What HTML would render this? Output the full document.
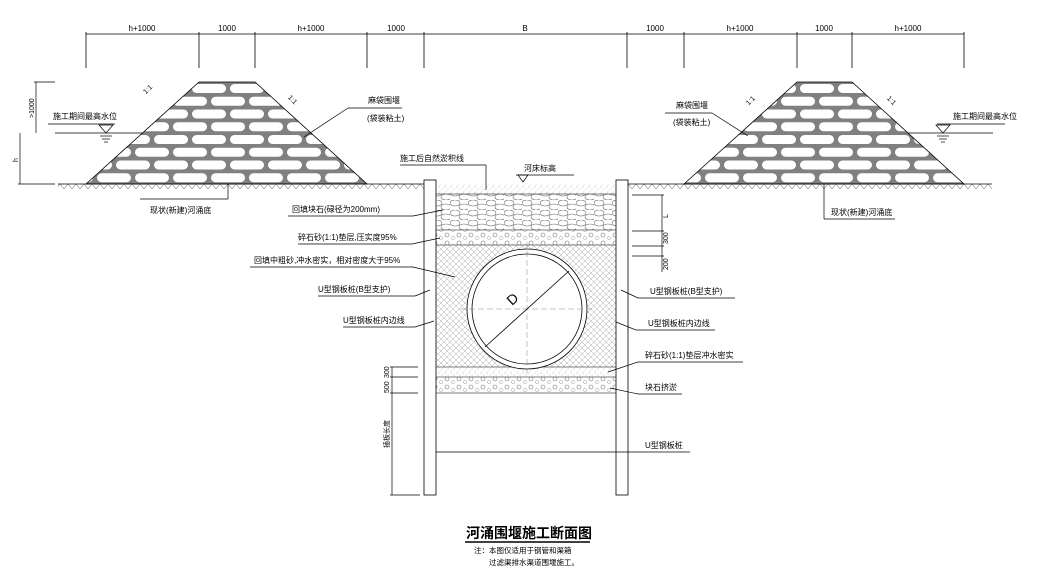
<!DOCTYPE html>
<html><head><meta charset="utf-8"><style>
html,body{margin:0;padding:0;background:#fff;width:1038px;height:583px;overflow:hidden}
svg{display:block}
text{font-family:"Liberation Sans","Noto Sans CJK SC",sans-serif;fill:#000}
</style></head><body>
<svg width="1038" height="583" viewBox="0 0 1038 583" xmlns="http://www.w3.org/2000/svg">
<defs>
<pattern id="brick" x="0" y="82" width="38" height="25.5" patternUnits="userSpaceOnUse">
<rect width="38" height="25.5" fill="#808080"/>
<rect x="2" y="2" width="34" height="9" rx="4.5" fill="#fff"/>
<rect x="-17" y="14.75" width="34" height="9" rx="4.5" fill="#fff"/>
<rect x="21" y="14.75" width="34" height="9" rx="4.5" fill="#fff"/>
</pattern>
<pattern id="stip" width="6" height="6" patternUnits="userSpaceOnUse">
<rect width="6" height="6" fill="#fff"/>
<circle cx="1" cy="1" r="0.5" fill="#999"/><circle cx="4" cy="3" r="0.5" fill="#aaa"/><circle cx="2" cy="5" r="0.4" fill="#999"/>
</pattern>
<pattern id="circ" width="12" height="8" patternUnits="userSpaceOnUse">
<rect width="12" height="8" fill="#fff"/>
<circle cx="3" cy="3" r="2" fill="none" stroke="#777" stroke-width="0.6"/>
<circle cx="9" cy="6" r="1.6" fill="none" stroke="#999" stroke-width="0.5"/>
</pattern>
<pattern id="stone" width="18" height="10" patternUnits="userSpaceOnUse">
<rect width="18" height="10" fill="#fff"/>
<ellipse cx="5" cy="3" rx="5" ry="3" fill="none" stroke="#666" stroke-width="0.6"/>
<ellipse cx="14" cy="7" rx="5" ry="3" fill="none" stroke="#666" stroke-width="0.6"/>
</pattern>
<pattern id="cross" width="6" height="6" patternUnits="userSpaceOnUse">
<rect width="6" height="6" fill="#fff"/>
<path d="M0 6L6 0M0 0L6 6" stroke="#aaa" stroke-width="0.5"/>
</pattern>
<pattern id="hatch" width="8" height="5" patternUnits="userSpaceOnUse" x="0" y="184">
<path d="M0 5L4 0L8 5" fill="none" stroke="#888" stroke-width="0.6"/>
</pattern>
</defs>

<g stroke="#000" stroke-width="0.8">
<line x1="86" y1="34" x2="964" y2="34"/>
<line x1="86" y1="32" x2="86" y2="68"/><line x1="199" y1="32" x2="199" y2="68"/><line x1="255" y1="32" x2="255" y2="68"/>
<line x1="367" y1="32" x2="367" y2="68"/><line x1="424" y1="32" x2="424" y2="68"/><line x1="627" y1="32" x2="627" y2="68"/>
<line x1="684" y1="32" x2="684" y2="68"/><line x1="797" y1="32" x2="797" y2="68"/><line x1="852" y1="32" x2="852" y2="68"/><line x1="964" y1="32" x2="964" y2="68"/>
</g>
<g font-size="8" text-anchor="middle">
<text x="142" y="31">h+1000</text><text x="227" y="31">1000</text><text x="311" y="31">h+1000</text><text x="396" y="31">1000</text>
<text x="525" y="31">B</text><text x="655" y="31">1000</text><text x="740" y="31">h+1000</text><text x="824" y="31">1000</text><text x="908" y="31">h+1000</text>
</g>

<polygon points="86,184 199,82 255,82 367,184" fill="url(#brick)" stroke="#000" stroke-width="0.8"/>
<polygon points="684,184 797,82 852,82 964,184" fill="url(#brick)" stroke="#000" stroke-width="0.8"/>

<rect x="58" y="184" width="366" height="5" fill="url(#hatch)"/>
<rect x="628" y="184" width="364" height="5" fill="url(#hatch)"/>
<line x1="58" y1="184" x2="424" y2="184" stroke="#000" stroke-width="0.8"/>
<line x1="628" y1="184" x2="992" y2="184" stroke="#000" stroke-width="0.8"/>

<rect x="436" y="184" width="180" height="10" fill="url(#stip)"/>
<rect x="436" y="194" width="180" height="36" fill="url(#stone)"/>
<rect x="436" y="230" width="180" height="15" fill="url(#circ)"/>
<rect x="436" y="245" width="180" height="122" fill="url(#cross)"/>
<rect x="436" y="367" width="180" height="10" fill="url(#stip)"/>
<rect x="436" y="377" width="180" height="16" fill="url(#circ)"/>
<g stroke="#555" stroke-width="0.7">
<line x1="436" y1="194" x2="616" y2="194"/><line x1="436" y1="230" x2="616" y2="230"/><line x1="436" y1="245" x2="616" y2="245"/>
<line x1="436" y1="367" x2="616" y2="367"/><line x1="436" y1="377" x2="616" y2="377"/><line x1="436" y1="393" x2="616" y2="393"/>
</g>
<circle cx="527" cy="309" r="60" fill="#fff" stroke="#000" stroke-width="0.8"/>
<circle cx="527" cy="309" r="55" fill="#fff" stroke="#000" stroke-width="0.8"/>
<g stroke="#888" stroke-width="0.5" stroke-dasharray="6,3">
<line x1="460" y1="309" x2="594" y2="309"/><line x1="527" y1="242" x2="527" y2="376"/>
</g>
<line x1="485" y1="347" x2="569" y2="271" stroke="#000" stroke-width="0.8"/>
<text x="0" y="0" font-size="14" transform="translate(512,306) rotate(-42)">D</text>

<rect x="424" y="180" width="12" height="315" fill="#fff" stroke="#000" stroke-width="0.8"/>
<rect x="616" y="180" width="12" height="315" fill="#fff" stroke="#000" stroke-width="0.8"/>

<g stroke="#000" stroke-width="0.7" fill="none">
<line x1="55" y1="133" x2="142" y2="133"/>
<polygon points="99,125 113,125 106,133"/>
<line x1="100" y1="136" x2="112" y2="136"/><line x1="102" y1="139" x2="110" y2="139"/><line x1="104" y1="142" x2="108" y2="142"/>
<line x1="908" y1="133" x2="993" y2="133"/>
<polygon points="936,125 950,125 943,133"/>
<line x1="937" y1="136" x2="949" y2="136"/><line x1="939" y1="139" x2="947" y2="139"/><line x1="941" y1="142" x2="945" y2="142"/>
<line x1="937" y1="124" x2="1005" y2="124"/>
<line x1="48" y1="124" x2="115" y2="124"/>
<line x1="36" y1="82" x2="36" y2="133"/><line x1="34" y1="82" x2="55" y2="82"/>
<line x1="20" y1="133" x2="20" y2="184"/><line x1="18" y1="184" x2="55" y2="184"/>
<line x1="304" y1="137" x2="348" y2="108"/><line x1="348" y1="108" x2="402" y2="108"/>
<line x1="748" y1="136" x2="712" y2="113"/><line x1="712" y1="113" x2="665" y2="113"/>
<line x1="228" y1="184" x2="228" y2="199"/><line x1="228" y1="199" x2="140" y2="199"/>
<line x1="824" y1="184" x2="824" y2="219"/><line x1="824" y1="219" x2="895" y2="219"/>
<line x1="486" y1="190" x2="486" y2="165"/><line x1="486" y1="165" x2="400" y2="165"/>
<line x1="516" y1="175" x2="574" y2="175"/>
<polygon points="518,175 528,175 523,182"/>
<line x1="443" y1="210" x2="413" y2="216"/><line x1="413" y1="216" x2="288" y2="216"/>
<line x1="440" y1="238" x2="412" y2="244"/><line x1="412" y1="244" x2="298" y2="244"/>
<line x1="455" y1="277" x2="413" y2="267"/><line x1="413" y1="267" x2="250" y2="267"/>
<line x1="430" y1="290" x2="415" y2="296"/><line x1="415" y1="296" x2="318" y2="296"/>
<line x1="434" y1="321" x2="415" y2="327"/><line x1="415" y1="327" x2="343" y2="327"/>
<line x1="621" y1="290" x2="638" y2="298"/><line x1="638" y1="298" x2="735" y2="298"/>
<line x1="616" y1="322" x2="636" y2="330"/><line x1="636" y1="330" x2="715" y2="330"/>
<line x1="608" y1="372" x2="638" y2="362"/><line x1="638" y1="362" x2="743" y2="362"/>
<line x1="610" y1="388" x2="638" y2="394"/><line x1="638" y1="394" x2="682" y2="394"/>
<line x1="436" y1="452" x2="628" y2="452"/><line x1="628" y1="452" x2="690" y2="452"/>
<line x1="662" y1="195" x2="662" y2="272"/>
<line x1="632" y1="195" x2="664" y2="195"/><line x1="632" y1="231" x2="664" y2="231"/><line x1="632" y1="246" x2="664" y2="246"/><line x1="632" y1="256" x2="664" y2="256"/>
<line x1="392" y1="367" x2="392" y2="495"/>
<line x1="390" y1="367" x2="418" y2="367"/><line x1="390" y1="377" x2="418" y2="377"/><line x1="390" y1="393" x2="418" y2="393"/><line x1="390" y1="495" x2="420" y2="495"/>
<line x1="465" y1="542" x2="590" y2="542" stroke-width="1.5"/>
</g>

<g font-size="8">
<text x="0" y="0" font-size="7" transform="translate(34,118) rotate(-90)">&gt;1000</text>
<text x="0" y="0" font-size="7" transform="translate(18,162) rotate(-90)">h</text>
<text x="53" y="119">施工期间最高水位</text>
<text x="953" y="119">施工期间最高水位</text>
<text x="142" y="91" transform="rotate(-45 148 88)" font-size="7">1:1</text>
<text x="288" y="103" transform="rotate(45 294 100)" font-size="7">1:1</text>
<text x="745" y="103" transform="rotate(-45 750 100)" font-size="7">1:1</text>
<text x="888" y="101" transform="rotate(45 890 98)" font-size="7">1:1</text>
<text x="368" y="103">麻袋围堰</text><text x="367" y="121">(袋装粘土)</text>
<text x="676" y="108">麻袋围堰</text><text x="673" y="125">(袋装粘土)</text>
<text x="150" y="213">现状(新建)河涌底</text>
<text x="831" y="215">现状(新建)河涌底</text>
<text x="400" y="161">施工后自然淤积线</text>
<text x="524" y="171">河床标高</text>
<text x="292" y="212">回填块石(碌径为200mm)</text>
<text x="298" y="240">碎石砂(1:1)垫层,压实度95%</text>
<text x="254" y="263">回填中粗砂,冲水密实，相对密度大于95%</text>
<text x="318" y="292">U型钢板桩(B型支护)</text>
<text x="343" y="323">U型钢板桩内边线</text>
<text x="650" y="294">U型钢板桩(B型支护)</text>
<text x="648" y="326">U型钢板桩内边线</text>
<text x="645" y="358">碎石砂(1:1)垫层冲水密实</text>
<text x="645" y="390">块石挤淤</text>
<text x="645" y="448">U型钢板桩</text>
<text x="0" y="0" font-size="7" transform="translate(668,218) rotate(-90)">L</text>
<text x="0" y="0" font-size="7" transform="translate(668,244) rotate(-90)">300</text>
<text x="0" y="0" font-size="7" transform="translate(668,270) rotate(-90)">200</text>
<text x="0" y="0" font-size="7" transform="translate(389,378) rotate(-90)">300</text>
<text x="0" y="0" font-size="7" transform="translate(389,393) rotate(-90)">500</text>
<text x="0" y="0" font-size="7" transform="translate(389,448) rotate(-90)">插板长度</text>
</g>
<text x="466" y="538" font-size="14" font-weight="bold">河涌围堰施工断面图</text>
<text x="474" y="553" font-size="7.5">注：本图仅适用于钢管和渠箱</text>
<text x="489" y="565" font-size="7.5">过滤渠排水渠道围堰施工。</text>
</svg>
</body></html>
